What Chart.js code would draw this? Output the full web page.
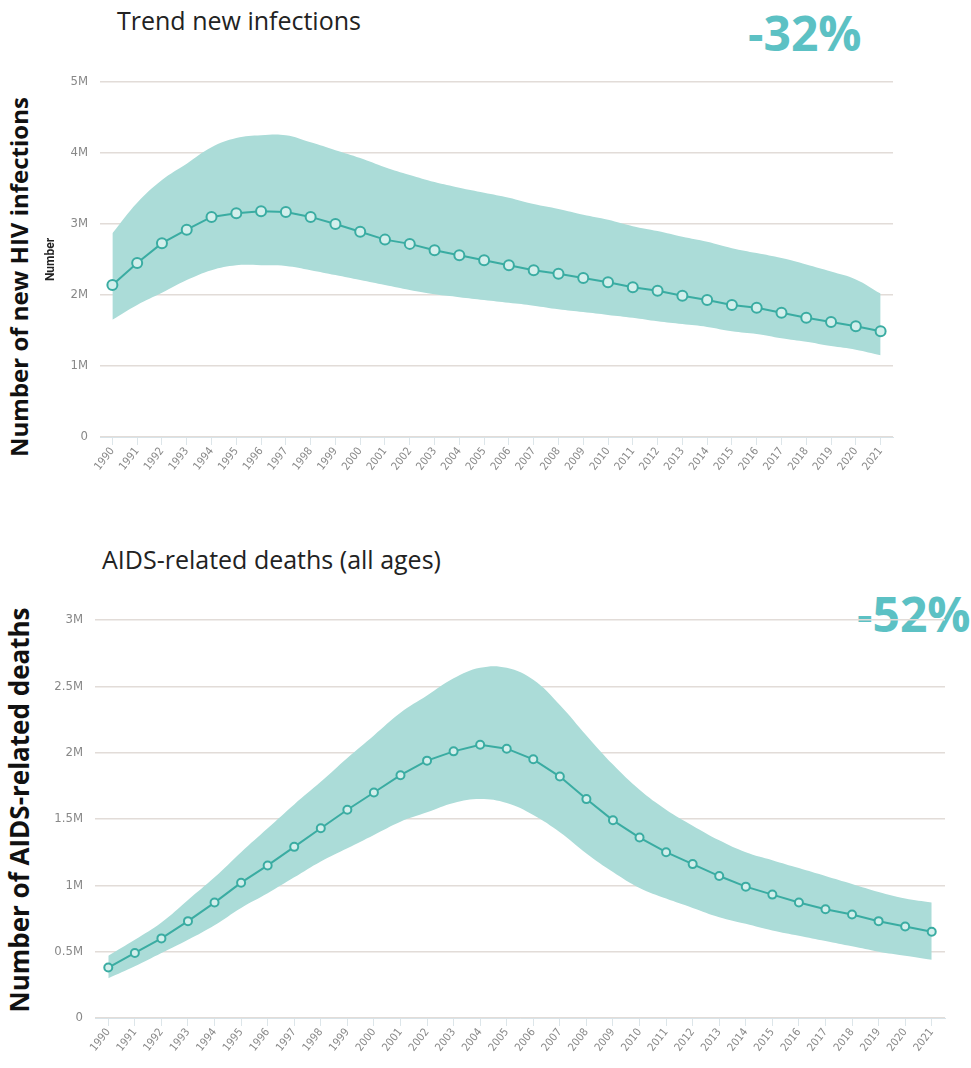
<!DOCTYPE html>
<html>
<head>
<meta charset="utf-8">
<script src="https://cdn.jsdelivr.net/npm/chart.js@4.4.1/dist/chart.umd.min.js"></script>
<style>
    body { margin: 0; background: #fff; width: 971px; height: 1068px; position: relative; overflow: hidden; font-family: "Open Sans", sans-serif; }
    .box { position: absolute; }
    .title { position: absolute; color: #222; white-space: nowrap; line-height: 1; }
    .side { position: absolute; font-weight: bold; color: #111; white-space: nowrap; line-height: 1; transform: translate(-50%, -50%) rotate(-90deg); }
    .pct { position: absolute; color: #5cc1c4; font-weight: bold; font-size: 48px; line-height: 1; }
</style>
</head>
<body>

<div class="title" style="left:117px; top:8px; font-size:25px;">Trend new infections</div>
<div class="pct" style="left:748px; top:9px;">-32%</div>
<div class="side" style="left:19px; top:277px; font-size:24px;">Number of new HIV infections</div>
<div class="box" style="left:40px; top:60px;"><canvas id="infections" width="860" height="430"></canvas></div>

<div class="title" style="left:102px; top:547px; font-size:25px;">AIDS-related deaths (all ages)</div>
<div class="pct" style="left:857px; top:590px;">-52%</div>
<div class="side" style="left:19px; top:810px; font-size:26px;">Number of AIDS-related deaths</div>
<div class="box" style="left:35px; top:600px;"><canvas id="deaths" width="920" height="468"></canvas></div>

<script>
// years on the x axis
const years = ["1990", "1991", "1992", "1993", "1994", "1995", "1996", "1997", "1998", "1999",
    "2000", "2001", "2002", "2003", "2004", "2005", "2006", "2007", "2008", "2009",
    "2010", "2011", "2012", "2013", "2014", "2015", "2016", "2017", "2018", "2019", "2020", "2021"];

// new HIV infections, millions
const infections = [2.14, 2.45, 2.73, 2.92, 3.10, 3.15, 3.18, 3.17, 3.10, 3.00,
    2.89, 2.78, 2.72, 2.63, 2.56, 2.49, 2.42, 2.35, 2.30, 2.24,
    2.18, 2.11, 2.06, 1.99, 1.93, 1.86, 1.82, 1.75, 1.68, 1.62, 1.56, 1.49];
const infectionsHigh = [2.87, 3.30, 3.62, 3.85, 4.08, 4.21, 4.25, 4.25, 4.15, 4.04,
    3.93, 3.80, 3.69, 3.59, 3.51, 3.44, 3.37, 3.28, 3.21, 3.13,
    3.06, 2.97, 2.90, 2.82, 2.75, 2.66, 2.59, 2.52, 2.43, 2.33, 2.22, 2.02];
const infectionsLow = [1.65, 1.86, 2.03, 2.21, 2.35, 2.42, 2.42, 2.41, 2.35, 2.28,
    2.21, 2.14, 2.07, 2.01, 1.97, 1.93, 1.89, 1.85, 1.80, 1.76,
    1.72, 1.68, 1.63, 1.59, 1.55, 1.49, 1.45, 1.39, 1.34, 1.28, 1.23, 1.15];
const infectionTicks = [0, 1, 2, 3, 4, 5];

// AIDS-related deaths, millions
const deaths = [0.38, 0.49, 0.60, 0.73, 0.87, 1.02, 1.15, 1.29, 1.43, 1.57,
    1.70, 1.83, 1.94, 2.01, 2.06, 2.03, 1.95, 1.82, 1.65, 1.49,
    1.36, 1.25, 1.16, 1.07, 0.99, 0.93, 0.87, 0.82, 0.78, 0.73, 0.69, 0.65];
const deathsHigh = [0.47, 0.59, 0.72, 0.89, 1.06, 1.25, 1.43, 1.61, 1.78, 1.96,
    2.13, 2.30, 2.43, 2.56, 2.64, 2.64, 2.55, 2.36, 2.13, 1.91,
    1.72, 1.57, 1.45, 1.34, 1.25, 1.19, 1.13, 1.07, 1.01, 0.95, 0.90, 0.87];
const deathsLow = [0.30, 0.39, 0.49, 0.59, 0.70, 0.83, 0.94, 1.06, 1.18, 1.28,
    1.38, 1.48, 1.55, 1.62, 1.65, 1.62, 1.53, 1.40, 1.24, 1.10,
    0.98, 0.90, 0.83, 0.76, 0.71, 0.66, 0.62, 0.58, 0.54, 0.50, 0.47, 0.44];
const deathTicks = [0, 0.5, 1, 1.5, 2, 2.5, 3];

const band = '#abdcd8';
const line = '#3aaca2';
const tickFont = { family: "'Liberation Sans Narrow', 'DejaVu Sans Condensed', 'Roboto', sans-serif", size: 12 };

function makeChart(id, mid, high, low, ticks, opts) {
    return new Chart(id, {
        type: 'line',
        data: {
            labels: years,
            datasets: [
                { data: high, borderWidth: 0, pointRadius: 0, fill: false, tension: 0.4, order: 3 },
                { data: low, borderWidth: 0, pointRadius: 0, fill: '-1', backgroundColor: band, tension: 0.4, order: 2 },
                {
                    data: mid, borderColor: line, borderWidth: 2, tension: 0, fill: false, order: 1,
                    pointRadius: opts.pointRadius, pointBorderWidth: 2,
                    pointBorderColor: line, pointBackgroundColor: '#d2efec'
                }
            ]
        },
        options: {
            responsive: false,
            animation: false,
            layout: { padding: opts.padding },
            plugins: { legend: { display: false }, tooltip: { enabled: false } },
            scales: {
                x: {
                    offset: true,
                    grid: { drawOnChartArea: false, drawTicks: true, tickLength: 8, color: '#dde6ea' },
                    border: { color: '#d8e3e8' },
                    ticks: { color: '#888', font: { ...tickFont, size: 11 }, minRotation: 52, maxRotation: 52, autoSkip: false, padding: 0 },
                    afterFit: function (s) { s.height = opts.xHeight; }
                },
                y: {
                    min: 0,
                    max: ticks[ticks.length - 1],
                    afterBuildTicks: function (s) { s.ticks = ticks.map(v => ({ value: v })); },
                    grid: { color: '#e2dcd8', drawTicks: false, lineWidth: 1.5 },
                    border: { display: false },
                    title: { display: opts.yTitle !== '', text: opts.yTitle, color: '#222', font: { family: 'Roboto', size: 12, weight: 'bold' }, padding: { top: 4, bottom: 0 } },
                    ticks: {
                        color: '#888', font: { ...tickFont, size: 13 }, padding: 12,
                        callback: function (v) { return v === 0 ? '0' : v + 'M'; }
                    },
                    afterFit: function (s) { s.width = 60; }
                }
            }
        }
    });
}

makeChart('infections', infections, infectionsHigh, infectionsLow, infectionTicks,
    { padding: { top: 22, right: 7 }, xHeight: 53, pointRadius: 5, yTitle: 'Number' });

makeChart('deaths', deaths, deathsHigh, deathsLow, deathTicks,
    { padding: { top: 20, right: 10 }, xHeight: 50, pointRadius: 4, yTitle: '' });
</script>
</body>
</html>
